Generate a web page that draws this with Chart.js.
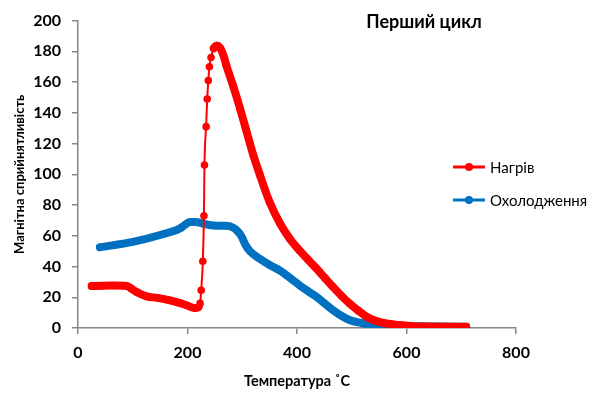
<!DOCTYPE html>
<html>
<head>
<meta charset="utf-8">
<script src="https://cdn.jsdelivr.net/npm/chart.js@4/dist/chart.umd.min.js"></script>
<style>
	html, body { margin: 0; padding: 0; background: #fff; }
	canvas { display: block; }
</style>
</head>
<body>
<canvas id="chart" width="595" height="394"></canvas>
<script>
// Перший цикл: magnetic susceptibility vs temperature
const titleText = `Перший цикл`;
const xTitle = `Температура ˚C`;
const yTitle = `Магнітна сприйнятливість`;

const heatLabel = `Нагрів`;
const heatT = [25, 45, 65, 89, 98, 107, 125, 145, 168, 185, 198, 213, 220, 223, 225, 228, 230, 231, 234, 236, 238, 240, 243, 248, 254, 260, 266, 271, 283, 296, 308, 320, 332, 350, 369, 387, 405, 420, 436, 451, 466, 481, 496, 512, 527, 542, 557, 572, 588, 610, 640, 670, 709];
const heatY = [27.3, 27.5, 27.6, 27.3, 25.5, 23.4, 20.6, 19.6, 18, 16.3, 14.8, 13, 13.6, 16, 24.5, 43.4, 73, 106, 131, 149, 161, 170, 176, 182, 183.7, 182, 177, 170.8, 157.9, 142.8, 127.7, 112.7, 99.8, 82, 68, 58, 50.3, 44.5, 38.5, 32.5, 26.6, 21, 15.9, 11.3, 7.3, 4.8, 3.4, 2.5, 1.9, 1.2, 0.9, 0.8, 0.8];

const coolLabel = `Охолодження`;
const coolT = [709, 670, 630, 588, 557, 527, 512, 496, 481, 466, 451, 436, 420, 405, 393, 369, 350, 332, 314, 306, 298, 290, 283, 270, 253, 240, 228, 215, 204, 195, 186, 150, 100, 40];
const coolY = [0.8, 0.9, 1.1, 1.3, 1.8, 2.6, 3.6, 5.2, 8, 11.6, 15.8, 20.2, 24, 27.7, 31, 37.4, 41, 45, 50, 54, 60, 63.5, 65.4, 66.5, 66.5, 67, 68, 69, 69, 67, 64.7, 60.5, 56, 52.5];

const xTicks = [0, 200, 400, 600, 800];

const red = `#ff0000`;
const blue = `#0070c0`;
const axisGrey = `#868686`;
const fontFamily = `Lato, "Open Sans", sans-serif`;

const toPoints = (xs, ys) => xs.map((x, i) => ({x: x, y: ys[i]}));

// rising part of the heating curve is a thin line with visible markers
const isSteep = ctx => ctx.p0.parsed.x >= 220 && ctx.p1.parsed.x <= 250 && ctx.p0.parsed.y > 12;

const overlay = {
	id: `overlay`,
	afterDraw(chart) {
		const ctx = chart.ctx;
		ctx.save();
		ctx.fillStyle = `#000`;
		ctx.font = `bold 18px ${fontFamily}`;
		ctx.textAlign = `center`;
		ctx.textBaseline = `middle`;
		ctx.fillText(titleText, 424, 22);

		const items = [
			{label: heatLabel, color: red, y: 167},
			{label: coolLabel, color: blue, y: 200}
		];
		items.forEach(item => {
			ctx.strokeStyle = item.color;
			ctx.lineWidth = 3;
			ctx.beginPath();
			ctx.moveTo(453, item.y);
			ctx.lineTo(485, item.y);
			ctx.stroke();
			ctx.fillStyle = item.color;
			ctx.beginPath();
			ctx.arc(469, item.y, 4, 0, Math.PI * 2);
			ctx.fill();
			ctx.fillStyle = `#000`;
			ctx.font = `15px ${fontFamily}`;
			ctx.textAlign = `left`;
			ctx.fillText(item.label, 490, item.y + 1);
		});
		ctx.restore();
	}
};

new Chart(document.getElementById(`chart`), {
	type: `scatter`,
	data: {
		datasets: [
			{
				label: coolLabel,
				data: toPoints(coolT, coolY),
				showLine: true,
				borderColor: blue,
				backgroundColor: blue,
				borderWidth: 8,
				borderCapStyle: `round`,
				borderJoinStyle: `round`,
				pointRadius: 0,
				cubicInterpolationMode: `monotone`,
				order: 2
			},
			{
				label: heatLabel,
				data: toPoints(heatT, heatY),
				showLine: true,
				borderColor: red,
				backgroundColor: red,
				borderWidth: 8,
				borderCapStyle: `round`,
				borderJoinStyle: `round`,
				pointRadius: 3.8,
				pointBorderWidth: 0,
				cubicInterpolationMode: `monotone`,
				segment: {
					borderWidth: ctx => isSteep(ctx) ? 2 : 8
				},
				order: 1
			}
		]
	},
	options: {
		responsive: false,
		devicePixelRatio: 1,
		animation: false,
		layout: {
			padding: {left: 0, right: 79, top: 14, bottom: 0}
		},
		scales: {
			x: {
				type: `linear`,
				min: 0,
				max: 800,
				afterBuildTicks: scale => { scale.ticks = xTicks.map(v => ({value: v})); },
				afterFit: scale => { scale.height = 66; },
				border: {color: axisGrey, width: 1.5},
				grid: {display: true, drawOnChartArea: false, drawTicks: true, tickLength: 6, color: axisGrey, lineWidth: 1.5},
				ticks: {
					color: `#000`,
					padding: 9,
					font: {family: fontFamily, size: 16, weight: `bold`}
				},
				title: {
					display: true,
					text: xTitle,
					color: `#000`,
					padding: {top: 0, bottom: 4},
					font: {family: fontFamily, size: 14.5, weight: `bold`}
				}
			},
			y: {
				min: 0,
				max: 200,
				afterFit: scale => { scale.width = 78; },
				border: {color: axisGrey, width: 1.5},
				grid: {display: true, drawOnChartArea: false, drawTicks: true, tickLength: 6, color: axisGrey, lineWidth: 1.5},
				ticks: {
					stepSize: 20,
					color: `#000`,
					padding: 11,
					font: {family: fontFamily, size: 16, weight: `bold`}
				},
				title: {
					display: true,
					text: yTitle,
					color: `#000`,
					padding: {top: 12, bottom: 0},
					font: {family: fontFamily, size: 13, weight: `bold`}
				}
			}
		},
		plugins: {
			legend: {display: false},
			title: {display: false},
			tooltip: {enabled: false}
		}
	},
	plugins: [overlay]
});
</script>
</body>
</html>
